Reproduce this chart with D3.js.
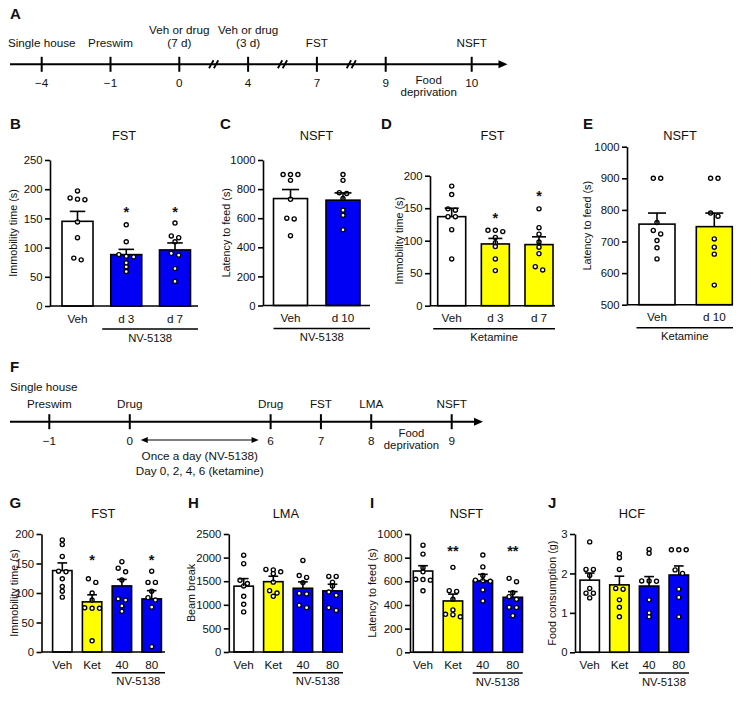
<!DOCTYPE html>
<html><head><meta charset="utf-8">
<script src="https://cdn.jsdelivr.net/npm/d3@7"></script>
<style>
body{margin:0;background:#fff;}
svg text{font-family:"Liberation Sans",Arial,Helvetica,sans-serif;fill:#111;}
</style></head><body>
<svg id="fig" width="751" height="703"></svg>
<script>
// ================= DATA =================
// Timeline A
const timelineADays = ["\u22124","\u22121","0","4","7","9","10"];
const timelineAEvents = [["Single house"],["Preswim"],["Veh or drug","(7 d)"],["Veh or drug","(3 d)"],["FST"],[],["NSFT"]];
const timelineABreaksAfter = ["0","4","7"];
const timelineANote = ["Food","deprivation"];
// Timeline F
const timelineFDays = ["\u22121","0","6","7","8","9"];
const timelineFEvents = [["Preswim"],["Drug"],["Drug"],["FST"],["LMA"],["NSFT"]];
const timelineFStart = "Single house";
const timelineFNote = ["Food","deprivation"];
const timelineFDosing = ["Once a day (NV-5138)","Day 0, 2, 4, 6 (ketamine)"];

// Panel B
const bCats = ["Veh","d 3","d 7"];
const bTreat = ["Veh","NV-5138","NV-5138"];
const bMean = [145, 88, 96];
const bSem = [17, 9, 12];
const bPoints = [[197,182,183,185,144,117,79,82],[139,110,88,85,84,74,67,59],[142,120,117,110,90,87,64,42]];
const bSig = ["","*","*"];
const bSigAt = [null,166,166];
const bTicks = [0,50,100,150,200,250];
const bGroup = ["d 3","d 7"];
const bGroupLabel = "NV-5138";

// Panel C
const cCats = ["Veh","d 10"];
const cTreat = ["Veh","NV-5138"];
const cMean = [735, 724];
const cSem = [62, 50];
const cPoints = [[900,900,900,860,730,600,595,480],[900,860,775,770,735,655,620,520]];
const cTicks = [0,200,400,600,800,1000];
const cGroup = ["Veh","d 10"];
const cGroupLabel = "NV-5138";

// Panel D
const dCats = ["Veh","d 3","d 7"];
const dTreat = ["Veh","Ketamine","Ketamine"];
const dMean = [137, 95, 94];
const dSem = [13, 8.5, 12];
const dPoints = [[184,171,149,147,137,137,117,72],[116,116,114,105,97,91,72,54],[149,120,110,98,90,80,60,55]];
const dSig = ["","*","*"];
const dSigAt = [null,140,173];
const dTicks = [0,50,100,150,200];
const dGroup = ["Veh","d 3","d 7"];
const dGroupLabel = "Ketamine";

// Panel E
const eCats = ["Veh","d 10"];
const eTreat = ["Veh","Ketamine"];
const eMean = [755, 747];
const eSem = [35, 43];
const ePoints = [[900,900,760,735,724,703,680,645],[900,900,790,780,708,682,660,562]];
const eTicks = [500,600,700,800,900,1000];
const eGroup = ["Veh","d 10"];
const eGroupLabel = "Ketamine";

// Panels G-J
const ghijCats = ["Veh","Ket","40","80"];
const ghijTreat = ["Veh","Ketamine","NV-5138","NV-5138"];
const ghijGroup = ["40","80"];
const ghijGroupLabel = "NV-5138";

const gMean = [138, 85, 112, 90];
const gSem = [13, 12, 11, 14];
const gPoints = [[190,182,162,137,136,124,111,103,93],[124,118,100,88,75,74,74,19],[153,142,136,122,90,88,78,69],[137,118,118,103,92,88,76,9]];
const gSig = ["","*","","*"];
const gSigAt = [null,161,null,161];
const gTicks = [0,50,100,150,200];

const hMean = [1395, 1490, 1350, 1295];
const hSem = [160, 115, 135, 140];
const hPoints = [[2050,1870,1520,1450,1400,1180,1010,850],[1750,1740,1700,1660,1480,1300,1250,1180],[1940,1620,1580,1470,1240,1230,990,940],[1600,1600,1480,1400,1270,1200,940,880]];
const hTicks = [0,500,1000,1500,2000,2500];

const iMean = [687, 434, 605, 465];
const iSem = [45, 58, 54, 48];
const iPoints = [[905,830,715,680,617,615,610,520],[718,521,515,448,358,321,318,300],[822,722,650,610,605,600,527,434],[625,597,504,470,448,380,378,309]];
const iSig = ["","**","","**"];
const iSigAt = [null,880,null,880];
const iTicks = [0,200,400,600,800,1000];

const jMean = [1.83, 1.71, 1.68, 1.96];
const jSem = [0.18, 0.22, 0.24, 0.23];
const jPoints = [[2.8,2.1,2.1,1.95,1.62,1.5,1.5,1.38],[2.5,2.4,2.1,1.62,1.6,1.33,1.14,0.9],[2.61,2.51,1.81,1.81,1.8,1.33,1.0,0.9],[2.6,2.6,2.6,2.09,2.0,1.6,1.39,0.9]];
const jTicks = [0,1,2,3];

// ================= DRAWING =================
const svg = d3.select("#fig");
const fillScale = d3.scaleOrdinal().domain(["Veh","Ketamine","NV-5138"]).range(["#ffffff","#ffff00","#0000f5"]);

function swarm(ys, s, thr){
  const idx = ys.map((v,i)=>i).sort((a,b)=>ys[a]-ys[b]);
  const out=[]; let cl=[];
  const flush=()=>{ cl.forEach((k,j)=>out.push({y:ys[k], dx:(j-(cl.length-1)/2)*s})); cl=[]; };
  idx.forEach(k=>{ if(cl.length && ys[k]-ys[cl[0]]>=thr) flush(); cl.push(k); });
  flush();
  return out;
}

function drawPanel(cfg, d){
  const g = svg.append("g");
  const n = d.cats.length;
  const step = (cfg.cLast - cfg.c0)/(n-1);
  const pI = 1 - cfg.bw/step;
  const x = d3.scaleBand().domain(d.cats).range([cfg.c0 - step/2, cfg.cLast + step/2]).paddingInner(pI).paddingOuter(pI/2);
  const y = d3.scaleLinear().domain([d.ticks[0], d.ticks[d.ticks.length-1]]).range([cfg.yBot, cfg.yTop]);
  const bw = x.bandwidth();
  const cx = c => x(c) + bw/2;
  // bars
  g.selectAll("rect.bar").data(d.cats).join("rect").attr("class","bar")
    .attr("x", c=>x(c)).attr("width", bw)
    .attr("y", (c,i)=>y(d.mean[i])).attr("height", (c,i)=>y(d.ticks[0]) - y(d.mean[i]))
    .attr("fill", (c,i)=>fillScale(d.treat[i])).attr("stroke","#000").attr("stroke-width",1.6);
  // points
  d.cats.forEach((c,i)=>{
    const pts = swarm(d.points[i].map(v=>y(v)), 7.4, 3.6);
    g.append("g").selectAll("circle").data(pts).join("circle")
      .attr("cx", p=>cx(c)+p.dx).attr("cy", p=>p.y).attr("r",2.05)
      .attr("fill","#fff").attr("stroke","#000").attr("stroke-width",1.35);
  });
  // error bars
  const capW = bw*0.5;
  d.cats.forEach((c,i)=>{
    const y0 = y(d.mean[i]), y1 = y(d.mean[i]+d.sem[i]);
    g.append("line").attr("x1",cx(c)).attr("x2",cx(c)).attr("y1",y0).attr("y2",y1).attr("stroke","#000").attr("stroke-width",1.6);
    g.append("line").attr("x1",cx(c)-capW/2).attr("x2",cx(c)+capW/2).attr("y1",y1).attr("y2",y1).attr("stroke","#000").attr("stroke-width",1.6);
  });
  // significance
  if(d.sig){
    d.cats.forEach((c,i)=>{
      if(!d.sig[i]) return;
      g.append("text").attr("x",cx(c)).attr("y",y(d.sigAt[i])+8).attr("text-anchor","middle")
        .attr("font-size",14.5).attr("font-weight","bold").text(d.sig[i]);
    });
  }
  // y axis
  const ax = g.append("g").attr("transform",`translate(${cfg.axisX},0)`)
    .call(d3.axisLeft(y).tickValues(d.ticks).tickSize(5).tickSizeOuter(0).tickPadding(2.5).tickFormat(d3.format("~g")));
  ax.attr("font-size",null).attr("font-family",null);
  ax.selectAll("text").attr("font-size",11.3).attr("fill","#111");
  ax.selectAll("line,path").attr("stroke","#000").attr("stroke-width",1.6);
  // x axis line
  g.append("line").attr("x1",cfg.axisX).attr("x2",cfg.xEnd).attr("y1",cfg.yBot).attr("y2",cfg.yBot)
    .attr("stroke","#000").attr("stroke-width",1.6);
  // x labels
  g.selectAll("text.xl").data(d.cats).join("text").attr("class","xl")
    .attr("x",c=>cx(c)).attr("y",cfg.yBot+16.5).attr("text-anchor","middle").attr("font-size",11.7).text(c=>c);
  // group underline
  const ulY = cfg.yBot + cfg.ulOff;
  const ulX0 = x(d.group[0]) - cfg.ulPad, ulX1 = cfg.xEnd;
  g.append("line").attr("x1",ulX0).attr("x2",ulX1).attr("y1",ulY).attr("y2",ulY).attr("stroke","#000").attr("stroke-width",1.4);
  g.append("text").attr("x",(ulX0+ulX1)/2).attr("y",ulY+12.5).attr("text-anchor","middle").attr("font-size",11.3).text(d.groupLabel);
  // title
  g.append("text").attr("x",(cfg.axisX+cfg.xEnd)/2).attr("y",cfg.titleY).attr("text-anchor","middle").attr("font-size",12.8).text(cfg.title);
  // letter
  g.append("text").attr("x",cfg.letterX).attr("y",cfg.letterY).attr("font-size",15).attr("font-weight","bold").text(cfg.letter);
  // y label
  const ym = (cfg.yTop+cfg.yBot)/2;
  g.append("text").attr("transform",`translate(${cfg.ylabX},${ym}) rotate(-90)`).attr("text-anchor","middle")
    .attr("font-size",10.8).text(cfg.ylab);
}

const topRow = {letterY:128.5, titleY:140, ulOff:23};
const botRow = {letterY:508, titleY:518, ulOff:20.7, yTop:534, bw:19.4, ulPad:0.5};

drawPanel({...topRow, letter:"B", letterX:10, title:"FST", axisX:50, xEnd:198, yTop:160, yBot:306, c0:77.5, cLast:175, bw:31, ylabX:16.5, ylab:"Immobility time (s)", ulPad:8.5},
  {cats:bCats, treat:bTreat, mean:bMean, sem:bSem, points:bPoints, sig:bSig, sigAt:bSigAt, ticks:bTicks, group:bGroup, groupLabel:bGroupLabel});
drawPanel({...topRow, letter:"C", letterX:220, title:"NSFT", axisX:263, xEnd:370, yTop:160, yBot:305.5, c0:290.5, cLast:343, bw:34, ylabX:230, ylab:"Latency to feed (s)", ulPad:0},
  {cats:cCats, treat:cTreat, mean:cMean, sem:cSem, points:cPoints, ticks:cTicks, group:cGroup, groupLabel:cGroupLabel});
drawPanel({...topRow, letter:"D", letterX:381, title:"FST", axisX:430, xEnd:555, yTop:175.7, yBot:305.7, c0:451.7, cLast:539, bw:28, ylabX:402.5, ylab:"Immobility time (s)", ulPad:4.5},
  {cats:dCats, treat:dTreat, mean:dMean, sem:dSem, points:dPoints, sig:dSig, sigAt:dSigAt, ticks:dTicks, group:dGroup, groupLabel:dGroupLabel});
drawPanel({...topRow, letter:"E", letterX:583, title:"NSFT", axisX:627, xEnd:733, yTop:146.7, yBot:304.7, c0:657, cLast:714.3, bw:36, ylabX:591, ylab:"Latency to feed (s)", ulPad:2.5},
  {cats:eCats, treat:eTreat, mean:eMean, sem:eSem, points:ePoints, ticks:eTicks, group:eGroup, groupLabel:eGroupLabel});

drawPanel({...botRow, letter:"G", letterX:9.5, title:"FST", axisX:41.5, xEnd:165, yBot:652, c0:62.3, cLast:151.7, ylabX:18, ylab:"Immobility time (s)"},
  {cats:ghijCats, treat:ghijTreat, mean:gMean, sem:gSem, points:gPoints, sig:gSig, sigAt:gSigAt, ticks:gTicks, group:ghijGroup, groupLabel:ghijGroupLabel});
drawPanel({...botRow, letter:"H", letterX:188, title:"LMA", axisX:228.8, xEnd:343, yBot:652, c0:243.7, cLast:332.5, ylabX:195, ylab:"Beam break"},
  {cats:ghijCats, treat:ghijTreat, mean:hMean, sem:hSem, points:hPoints, ticks:hTicks, group:ghijGroup, groupLabel:ghijGroupLabel});
drawPanel({...botRow, letter:"I", letterX:370, title:"NSFT", axisX:410, xEnd:522.7, yBot:652.3, c0:423, cLast:512.8, ylabX:375.5, ylab:"Latency to feed (s)"},
  {cats:ghijCats, treat:ghijTreat, mean:iMean, sem:iSem, points:iPoints, sig:iSig, sigAt:iSigAt, ticks:iTicks, group:ghijGroup, groupLabel:ghijGroupLabel});
drawPanel({...botRow, letter:"J", letterX:548, title:"HCF", axisX:575, xEnd:689, yBot:652.3, c0:589.7, cLast:678.8, ylabX:556, ylab:"Food consumption (g)"},
  {cats:ghijCats, treat:ghijTreat, mean:jMean, sem:jSem, points:jPoints, ticks:jTicks, group:ghijGroup, groupLabel:ghijGroupLabel});

// ---------- timelines ----------
function arrowHead(g, tipX, y){
  g.append("path").attr("d",`M${tipX-9},${y-4} L${tipX},${y} L${tipX-9},${y+4} Z`).attr("fill","#000");
}
function cumulative(gaps){ const c=[0]; gaps.forEach(v=>c.push(c[c.length-1]+v)); return c; }

// Timeline A
(function(){
  const g = svg.append("g");
  const lineY = 64.3;
  const gaps = [1,1,1,1,1,1.25];
  const cum = cumulative(gaps);
  const xs = d3.scaleLinear().domain([0, cum[cum.length-1]]).range([41.7, 471.7]);
  const pos = i => xs(cum[i]);
  g.append("line").attr("x1",10).attr("x2",500).attr("y1",lineY).attr("y2",lineY).attr("stroke","#000").attr("stroke-width",2);
  arrowHead(g, 507.5, lineY);
  timelineADays.forEach((dd,i)=>{
    g.append("line").attr("x1",pos(i)).attr("x2",pos(i)).attr("y1",lineY-7.5).attr("y2",lineY+7.5).attr("stroke","#000").attr("stroke-width",2);
    g.append("text").attr("x",pos(i)).attr("y",86.8).attr("text-anchor","middle").attr("font-size",11.7).text(dd);
    const ev = timelineAEvents[i];
    ev.forEach((t,k)=>{
      g.append("text").attr("x",pos(i)).attr("y",46.7-(ev.length-1-k)*12.3).attr("text-anchor","middle").attr("font-size",11.7).text(t);
    });
  });
  timelineABreaksAfter.forEach(dd=>{
    const i = timelineADays.indexOf(dd);
    const mx = (pos(i)+pos(i+1))/2;
    [-2.4,2.4].forEach(o=>{
      g.append("line").attr("x1",mx+o-2.2).attr("x2",mx+o+2.2).attr("y1",lineY+4).attr("y2",lineY-4).attr("stroke","#000").attr("stroke-width",1.8);
    });
  });
  const mx = (pos(5)+pos(6))/2;
  timelineANote.forEach((t,k)=>g.append("text").attr("x",mx).attr("y",84.3+k*11.8).attr("text-anchor","middle").attr("font-size",11.5).text(t));
  g.append("text").attr("x",10).attr("y",19.3).attr("font-size",15).attr("font-weight","bold").text("A");
})();

// Timeline F
(function(){
  const g = svg.append("g");
  const lineY = 421.7;
  const gaps = [1.6,2.8,1,1,1.6];
  const cum = cumulative(gaps);
  const xs = d3.scaleLinear().domain([0, cum[cum.length-1]]).range([49.3, 451.7]);
  const pos = i => xs(cum[i]);
  g.append("line").attr("x1",10).attr("x2",476).attr("y1",lineY).attr("y2",lineY).attr("stroke","#000").attr("stroke-width",2);
  arrowHead(g, 483, lineY);
  timelineFDays.forEach((dd,i)=>{
    g.append("line").attr("x1",pos(i)).attr("x2",pos(i)).attr("y1",lineY-7.5).attr("y2",lineY+7.5).attr("stroke","#000").attr("stroke-width",2);
    g.append("text").attr("x",pos(i)).attr("y",445).attr("text-anchor","middle").attr("font-size",11.7).text(dd);
    timelineFEvents[i].forEach(t=>g.append("text").attr("x",pos(i)).attr("y",408).attr("text-anchor","middle").attr("font-size",11.7).text(t));
  });
  g.append("text").attr("x",10).attr("y",390.5).attr("font-size",11.7).text(timelineFStart);
  const mx = (pos(4)+pos(5))/2;
  timelineFNote.forEach((t,k)=>g.append("text").attr("x",mx).attr("y",437+k*11.8).attr("text-anchor","middle").attr("font-size",11.3).text(t));
  // double arrow
  const ax0 = pos(1)+11, ax1 = pos(2)-12, ay = 440;
  g.append("line").attr("x1",ax0+4).attr("x2",ax1-4).attr("y1",ay).attr("y2",ay).attr("stroke","#000").attr("stroke-width",1.2);
  g.append("path").attr("d",`M${ax0},${ay} L${ax0+7},${ay-3} L${ax0+7},${ay+3} Z`).attr("fill","#000");
  g.append("path").attr("d",`M${ax1},${ay} L${ax1-7},${ay-3} L${ax1-7},${ay+3} Z`).attr("fill","#000");
  const dm = (ax0+ax1)/2;
  timelineFDosing.forEach((t,k)=>g.append("text").attr("x",dm).attr("y",460+k*14.5).attr("text-anchor","middle").attr("font-size",11.7).text(t));
  g.append("text").attr("x",10).attr("y",371.7).attr("font-size",15).attr("font-weight","bold").text("F");
})();
</script>
</body></html>
